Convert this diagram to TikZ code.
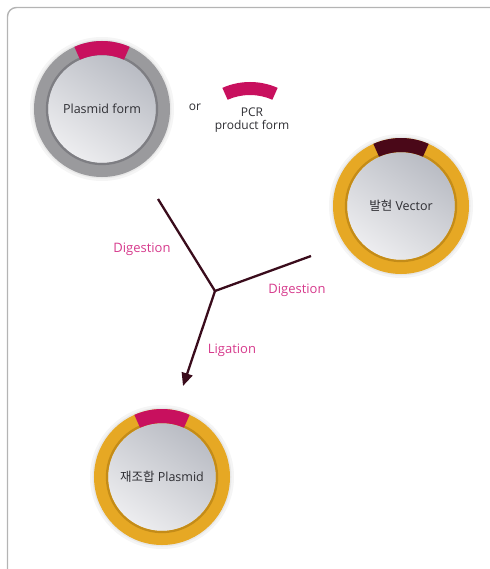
\documentclass[tikz,border=0pt]{standalone}
\usepackage{fontspec}
\setmainfont{Open Sans}
\newfontfamily\krfont{Noto Sans CJK KR}
\usetikzlibrary{calc,arrows.meta}
\definecolor{magseg}{HTML}{C8105E}
\definecolor{darkseg}{HTML}{4A0818}
\definecolor{ringgray}{HTML}{9A9A9D}
\definecolor{rimgray}{HTML}{7E7E83}
\definecolor{ringgold}{HTML}{E6A824}
\definecolor{rimgold}{HTML}{C48C18}
\definecolor{linecol}{HTML}{3A0C1C}
\definecolor{labcol}{HTML}{D63A8C}
\definecolor{txtcol}{HTML}{2E2E33}
\definecolor{framecol}{HTML}{B4B4B4}
\definecolor{diskdark}{HTML}{B6B9C1}
\definecolor{disklight}{HTML}{F0F0F2}
\tikzset{
  disk/.style={circle, minimum size=122pt, inner sep=0pt, line width=14pt,
    preaction={draw=black!4, line width=22pt},
    preaction={draw=black!9, line width=17pt},
    left color=diskdark, right color=disklight, shading angle=-35,
    font=\fontsize{12.5}{14}\selectfont, text=txtcol},
  graydisk/.style={disk, draw=ringgray},
  golddisk/.style={disk, draw=ringgold},
  conn/.style={draw=linecol, line width=2.3pt},
  lab/.style={text=labcol, font=\fontsize{13}{15}\selectfont},
}
\newcommand\ringseg[2]{%
  \fill[#2] ($(#1.center)+(66:68)$) arc[start angle=66,end angle=114,radius=68]
    -- ($(#1.center)+(114:54)$) arc[start angle=114,end angle=66,radius=54] -- cycle;}
\newcommand\rims[2]{%
  \draw[#2, line width=2.2pt] (#1.center) circle[radius=55.1];}
\begin{document}
\begin{tikzpicture}[x=1pt,y=1pt]
\useasboundingbox (0,0) rectangle (489,-569);
\draw[framecol, line width=1.4pt, rounded corners=9pt] (7.5,-7.5) rectangle (500,-580);

% plasmid form
\node[graydisk] (p1) at (102,-109) {Plasmid form};
\rims{p1}{rimgray}
\ringseg{p1}{magseg}

\node[font=\fontsize{12}{14}\selectfont, text=txtcol] (or) at (195,-107) {or};
\coordinate (pcrc) at (250,-150);
\fill[magseg] ($(pcrc)+(66:68)$) arc[start angle=66,end angle=114,radius=68]
    -- ($(pcrc)+(114:55)$) arc[start angle=114,end angle=66,radius=55] -- cycle;
\node[font=\fontsize{12}{13}\selectfont, text=txtcol, align=center] (pcr) at (252,-120) {PCR\\product form};

% vector
\node[golddisk] (vec) at (401,-206) {{\krfont 발현} Vector};
\rims{vec}{rimgold}
\ringseg{vec}{darkseg}

% recombinant
\node[golddisk] (rec) at (162,-477) {{\krfont 재조합} Plasmid};
\rims{rec}{rimgold}
\ringseg{rec}{magseg}

% connectors
\coordinate (j) at (215,-291);
\coordinate (e1) at (158,-199);
\coordinate (e2) at (311,-256);
\coordinate (e3) at (183,-386);
\draw[conn] (e1) -- (j);
\draw[conn] (e2) -- (j);
\draw[conn, -{Triangle[length=13pt,width=11pt]}] (j) -- (e3);

\node[lab] (d1) at (142,-249) {Digestion};
\node[lab] (d2) at (297,-290) {Digestion};
\node[lab] (lg) at (232,-350) {Ligation};
\end{tikzpicture}
\end{document}
